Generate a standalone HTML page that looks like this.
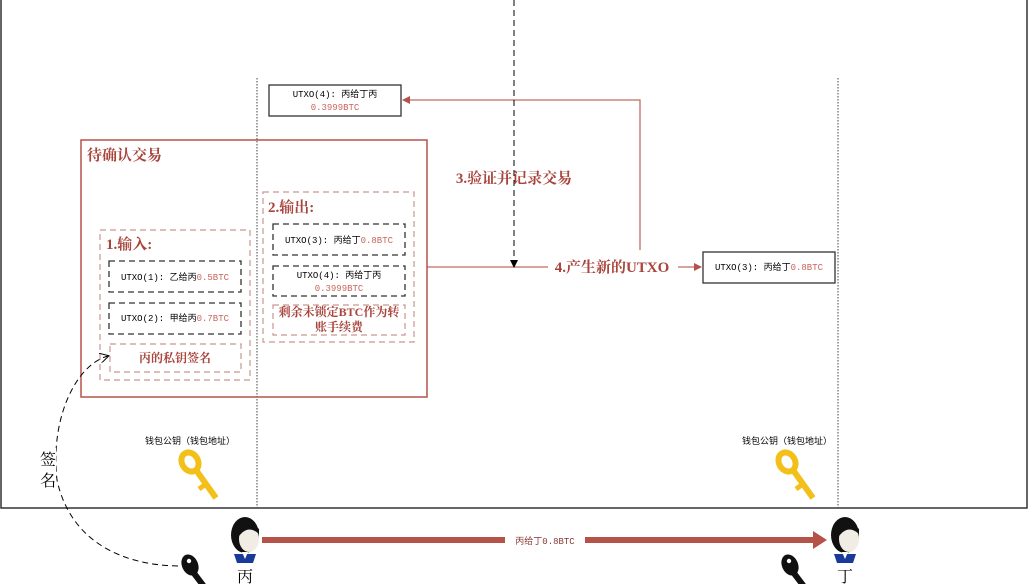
<!DOCTYPE html>
<html><head><meta charset="utf-8"><style>
body{margin:0;background:#fff;}
svg{display:block;font-family:"Liberation Serif","Noto Serif CJK SC","Noto Sans CJK SC",serif;}
.s{font-family:"Liberation Mono","Noto Sans CJK SC",monospace;font-size:9px;}
</style></head><body>
<svg width="1029" height="584" viewBox="0 0 1029 584" xmlns="http://www.w3.org/2000/svg">
<defs>
<marker id="ar" markerWidth="8" markerHeight="8" refX="7" refY="4" orient="auto" markerUnits="userSpaceOnUse"><path d="M0,0 L8,4 L0,8z" fill="#b5524a"/></marker>
<marker id="ab" markerWidth="8" markerHeight="8" refX="7" refY="4" orient="auto" markerUnits="userSpaceOnUse"><path d="M0,0 L8,4 L0,8z" fill="#000"/></marker>
<marker id="ao" markerWidth="10" markerHeight="10" refX="8" refY="5" orient="auto" markerUnits="userSpaceOnUse"><path d="M0,0 L9,5 L0,10" fill="none" stroke="#000"/></marker>
<g id="key"><ellipse cx="0" cy="0" rx="8" ry="10" fill="none" stroke="#f2c018" stroke-width="6" transform="rotate(-30)"/><line x1="6" y1="8" x2="26" y2="36" stroke="#f2c018" stroke-width="6"/><line x1="16" y1="22" x2="9" y2="27" stroke="#f2c018" stroke-width="5"/></g>
<g id="bk"><ellipse cx="0" cy="0" rx="8" ry="11" fill="#111" transform="rotate(-25)"/><circle cx="-1" cy="-4" r="2.2" fill="#fff"/><line x1="3" y1="7" x2="22" y2="32" stroke="#111" stroke-width="6"/></g>
<g id="person"><ellipse cx="0" cy="-2" rx="14" ry="18" fill="#111"/><ellipse cx="4" cy="2" rx="10" ry="13" fill="#f1ede4"/><path d="M-11,-8 Q0,-22 14,-8 L14,-3 Q2,-14 -8,2z" fill="#111"/><path d="M-11,17 L11,17 L8,26 L-8,26z" fill="#1a3a9a"/><path d="M-3,15 L3,15 L0,22z" fill="#fff"/></g>
</defs>
<path d="M1,0 V508 H1027 V0" fill="none" stroke="#333" stroke-width="1.5"/>
<line x1="257" y1="78" x2="257" y2="510" stroke="#444" stroke-dasharray="1.5,1.5"/>
<line x1="838" y1="78" x2="838" y2="510" stroke="#444" stroke-dasharray="1.5,1.5"/>
<rect x="269" y="85" width="132" height="31" fill="#fff" stroke="#333" stroke-width="1.3"/>
<text class="s" x="335" y="97" text-anchor="middle">UTXO(4): 丙给丁丙</text>
<text class="s" x="335" y="110" text-anchor="middle" fill="#c8655d">0.3999BTC</text>
<polyline points="427,267 548,267" fill="none" stroke="#c46a62" stroke-width="1.3"/>
<polyline points="640,250 640,100 403,100" fill="none" stroke="#c46a62" stroke-width="1.3" marker-end="url(#ar)"/>
<line x1="678" y1="267" x2="701" y2="267" stroke="#c46a62" stroke-width="1.3" marker-end="url(#ar)"/>
<line x1="514" y1="0" x2="514" y2="267" stroke="#000" stroke-dasharray="6,4" marker-end="url(#ab)"/>
<text x="514" y="183" text-anchor="middle" fill="#a8443c" font-size="15" font-weight="bold">3.验证并记录交易</text>
<text x="612" y="272" text-anchor="middle" fill="#a8443c" font-size="15" font-weight="bold">4.产生新的UTXO</text>
<rect x="703" y="252" width="132" height="31" fill="#fff" stroke="#333" stroke-width="1.3"/>
<text class="s" x="769" y="270" text-anchor="middle">UTXO(3): 丙给丁<tspan fill="#c8655d">0.8BTC</tspan></text>
<rect x="81" y="140" width="346" height="257" fill="none" stroke="#b5524a" stroke-width="1.5"/>
<text x="87" y="160" fill="#a8443c" font-size="15" font-weight="bold">待确认交易</text>
<g fill="none" stroke="#c9968f" stroke-dasharray="6,4" stroke-width="1.2">
<rect x="100" y="230" width="150" height="150"/>
<rect x="263" y="192" width="151" height="150"/>
<rect x="110" y="344" width="131" height="28"/>
<rect x="273" y="305" width="132" height="30"/>
</g>
<g fill="none" stroke="#333" stroke-dasharray="6,4" stroke-width="1.3">
<rect x="109" y="261" width="132" height="31"/>
<rect x="109" y="303" width="132" height="31"/>
<rect x="273" y="224" width="132" height="31"/>
<rect x="273" y="266" width="132" height="30"/>
</g>
<text x="106" y="249" fill="#a8443c" font-size="15" font-weight="bold">1.输入:</text>
<text x="268" y="212" fill="#a8443c" font-size="15" font-weight="bold">2.输出:</text>
<text class="s" x="175" y="280" text-anchor="middle">UTXO(1): 乙给丙<tspan fill="#c8655d">0.5BTC</tspan></text>
<text class="s" x="175" y="321" text-anchor="middle">UTXO(2): 甲给丙<tspan fill="#c8655d">0.7BTC</tspan></text>
<text class="s" x="339" y="243" text-anchor="middle">UTXO(3): 丙给丁<tspan fill="#c8655d">0.8BTC</tspan></text>
<text class="s" x="339" y="278" text-anchor="middle">UTXO(4): 丙给丁丙</text>
<text class="s" x="339" y="291" text-anchor="middle" fill="#c8655d">0.3999BTC</text>
<text x="175" y="362" text-anchor="middle" fill="#a8443c" font-size="12" font-weight="bold">丙的私钥签名</text>
<text x="339" y="316" text-anchor="middle" fill="#a8443c" font-size="12" font-weight="bold">剩余未锁定BTC作为转</text>
<text x="339" y="331" text-anchor="middle" fill="#a8443c" font-size="12" font-weight="bold">账手续费</text>
<text class="s" x="190" y="444" text-anchor="middle">钱包公钥（钱包地址）</text>
<text class="s" x="787" y="444" text-anchor="middle">钱包公钥（钱包地址）</text>
<use href="#key" x="190" y="462"/>
<use href="#key" x="787" y="462"/>
<path d="M178,566 C120,565 70,540 57,480 C50,420 75,365 108,356" fill="none" stroke="#000" stroke-dasharray="6,4" marker-end="url(#ao)"/>
<rect x="40" y="448" width="16" height="42" fill="#fff"/>
<text x="48" y="465" text-anchor="middle" font-size="16">签</text>
<text x="48" y="486" text-anchor="middle" font-size="16">名</text>
<line x1="262" y1="540" x2="815" y2="540" stroke="#b5524a" stroke-width="6"/>
<path d="M813,531 L827,540 L813,549z" fill="#b5524a"/>
<rect x="505" y="533" width="80" height="14" fill="#fff"/>
<text class="s" x="545" y="544" text-anchor="middle" fill="#8a3a34" font-size="11">丙给丁0.8BTC</text>
<use href="#person" x="245" y="537"/>
<use href="#person" x="845" y="537"/>
<text x="245" y="582" text-anchor="middle" font-size="16">丙</text>
<text x="845" y="582" text-anchor="middle" font-size="16">丁</text>
<use href="#bk" x="190" y="565"/>
<use href="#bk" x="790" y="565"/>
</svg>
</body></html>
